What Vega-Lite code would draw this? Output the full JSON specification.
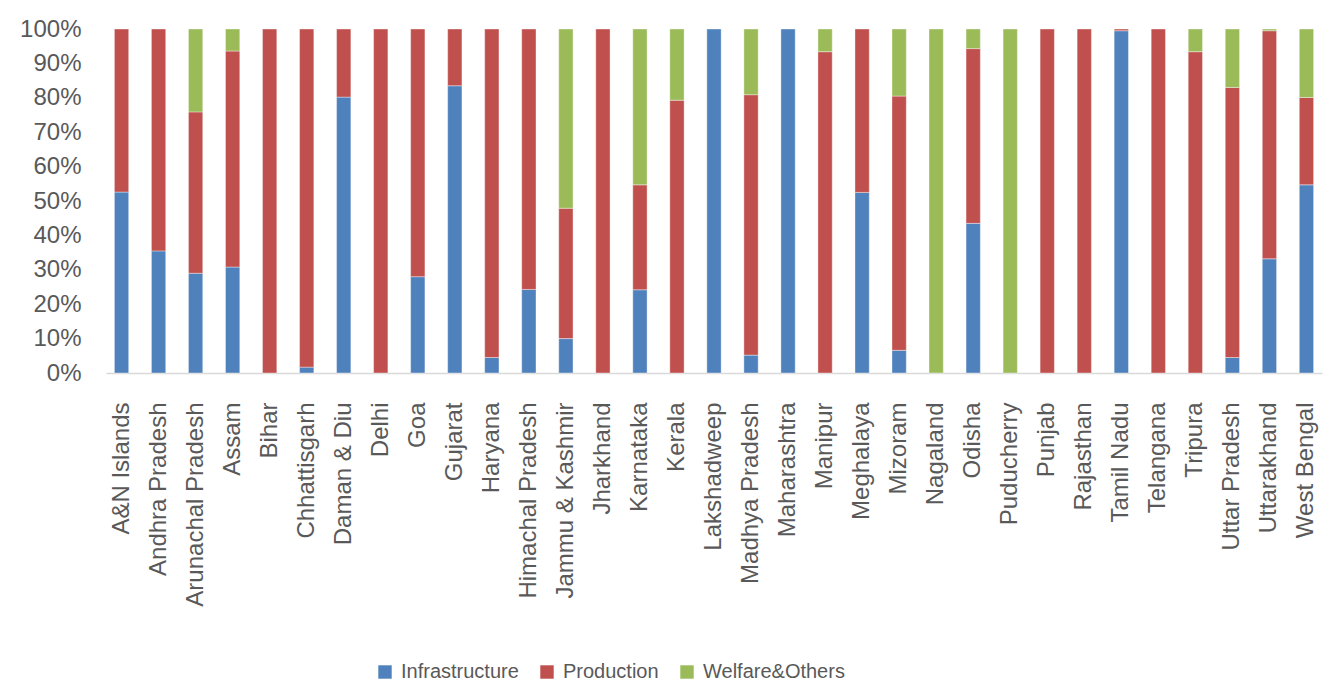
{
  "$schema": "https://vega.github.io/schema/vega-lite/v6.json",
  "autosize": {"type": "none"},
  "padding": {"left": 106, "top": 29, "right": 8, "bottom": 325},
  "width": 1216,
  "height": 344,
  "background": "#FFFFFF",
  "config": {
    "view": {"stroke": null},
    "font": "Liberation Sans",
    "axis": {"labelColor": "#595959", "labelFont": "Liberation Sans", "grid": false, "ticks": false, "title": null}
  },
  "data": {
    "values": [
      {"state": "A&N Islands", "type": "Infrastructure", "value": 52.6},
      {"state": "A&N Islands", "type": "Production", "value": 47.4},
      {"state": "Andhra Pradesh", "type": "Infrastructure", "value": 35.5},
      {"state": "Andhra Pradesh", "type": "Production", "value": 64.5},
      {"state": "Arunachal Pradesh", "type": "Infrastructure", "value": 29.0},
      {"state": "Arunachal Pradesh", "type": "Production", "value": 46.9},
      {"state": "Arunachal Pradesh", "type": "Welfare&Others", "value": 24.1},
      {"state": "Assam", "type": "Infrastructure", "value": 30.8},
      {"state": "Assam", "type": "Production", "value": 62.8},
      {"state": "Assam", "type": "Welfare&Others", "value": 6.4},
      {"state": "Bihar", "type": "Production", "value": 100},
      {"state": "Chhattisgarh", "type": "Infrastructure", "value": 1.7},
      {"state": "Chhattisgarh", "type": "Production", "value": 98.3},
      {"state": "Daman & Diu", "type": "Infrastructure", "value": 80.2},
      {"state": "Daman & Diu", "type": "Production", "value": 19.8},
      {"state": "Delhi", "type": "Production", "value": 100},
      {"state": "Goa", "type": "Infrastructure", "value": 28.0},
      {"state": "Goa", "type": "Production", "value": 72.0},
      {"state": "Gujarat", "type": "Infrastructure", "value": 83.5},
      {"state": "Gujarat", "type": "Production", "value": 16.5},
      {"state": "Haryana", "type": "Infrastructure", "value": 4.5},
      {"state": "Haryana", "type": "Production", "value": 95.5},
      {"state": "Himachal Pradesh", "type": "Infrastructure", "value": 24.3},
      {"state": "Himachal Pradesh", "type": "Production", "value": 75.7},
      {"state": "Jammu & Kashmir", "type": "Infrastructure", "value": 10.0},
      {"state": "Jammu & Kashmir", "type": "Production", "value": 37.9},
      {"state": "Jammu & Kashmir", "type": "Welfare&Others", "value": 52.1},
      {"state": "Jharkhand", "type": "Production", "value": 100},
      {"state": "Karnataka", "type": "Infrastructure", "value": 24.2},
      {"state": "Karnataka", "type": "Production", "value": 30.5},
      {"state": "Karnataka", "type": "Welfare&Others", "value": 45.3},
      {"state": "Kerala", "type": "Production", "value": 79.3},
      {"state": "Kerala", "type": "Welfare&Others", "value": 20.7},
      {"state": "Lakshadweep", "type": "Infrastructure", "value": 100},
      {"state": "Madhya Pradesh", "type": "Infrastructure", "value": 5.2},
      {"state": "Madhya Pradesh", "type": "Production", "value": 75.7},
      {"state": "Madhya Pradesh", "type": "Welfare&Others", "value": 19.1},
      {"state": "Maharashtra", "type": "Infrastructure", "value": 100},
      {"state": "Manipur", "type": "Production", "value": 93.4},
      {"state": "Manipur", "type": "Welfare&Others", "value": 6.6},
      {"state": "Meghalaya", "type": "Infrastructure", "value": 52.5},
      {"state": "Meghalaya", "type": "Production", "value": 47.5},
      {"state": "Mizoram", "type": "Infrastructure", "value": 6.6},
      {"state": "Mizoram", "type": "Production", "value": 73.9},
      {"state": "Mizoram", "type": "Welfare&Others", "value": 19.5},
      {"state": "Nagaland", "type": "Welfare&Others", "value": 100},
      {"state": "Odisha", "type": "Infrastructure", "value": 43.5},
      {"state": "Odisha", "type": "Production", "value": 50.8},
      {"state": "Odisha", "type": "Welfare&Others", "value": 5.7},
      {"state": "Puducherry", "type": "Welfare&Others", "value": 100},
      {"state": "Punjab", "type": "Production", "value": 100},
      {"state": "Rajasthan", "type": "Production", "value": 100},
      {"state": "Tamil Nadu", "type": "Infrastructure", "value": 99.5},
      {"state": "Tamil Nadu", "type": "Production", "value": 0.5},
      {"state": "Telangana", "type": "Production", "value": 100},
      {"state": "Tripura", "type": "Production", "value": 93.4},
      {"state": "Tripura", "type": "Welfare&Others", "value": 6.6},
      {"state": "Uttar Pradesh", "type": "Infrastructure", "value": 4.5},
      {"state": "Uttar Pradesh", "type": "Production", "value": 78.5},
      {"state": "Uttar Pradesh", "type": "Welfare&Others", "value": 17.0},
      {"state": "Uttarakhand", "type": "Infrastructure", "value": 33.2},
      {"state": "Uttarakhand", "type": "Production", "value": 66.3},
      {"state": "Uttarakhand", "type": "Welfare&Others", "value": 0.5},
      {"state": "West Bengal", "type": "Infrastructure", "value": 54.7},
      {"state": "West Bengal", "type": "Production", "value": 25.4},
      {"state": "West Bengal", "type": "Welfare&Others", "value": 19.9}
    ]
  },
  "mark": {"type": "bar", "stroke": "#FFFFFF", "strokeOpacity": 0.5, "strokeWidth": 0.75},
  "encoding": {
    "x": {
      "field": "state",
      "type": "nominal",
      "sort": null,
      "scale": {"paddingInner": 0.614, "paddingOuter": 0.227},
      "axis": {
        "labelAngle": -90,
        "labelAlign": "right",
        "labelBaseline": "middle",
        "labelFontSize": 24,
        "labelPadding": 29,
        "domainColor": "#D9D9D9",
        "domainWidth": 1.5,
        "labelLimit": 400
      }
    },
    "y": {
      "field": "value",
      "type": "quantitative",
      "stack": "normalize",
      "scale": {"domain": [0, 1], "nice": false},
      "axis": {
        "values": [0, 0.1, 0.2, 0.3, 0.4, 0.5, 0.6, 0.7, 0.8, 0.9, 1],
        "format": ".0%",
        "labelFontSize": 24,
        "labelPadding": 25,
        "domain": false
      }
    },
    "color": {
      "field": "type",
      "type": "nominal",
      "scale": {
        "domain": ["Infrastructure", "Production", "Welfare&Others"],
        "range": ["#4F81BD", "#C0504D", "#9BBB59"]
      },
      "legend": {
        "title": null,
        "orient": "none",
        "direction": "horizontal",
        "legendX": 269,
        "legendY": 633,
        "symbolType": "square",
        "symbolSize": 180,
        "symbolStrokeWidth": 0,
        "labelFontSize": 20,
        "labelColor": "#595959",
        "labelFont": "Liberation Sans",
        "labelOffset": 6,
        "columnPadding": 18,
        "labelLimit": 300
      }
    },
    "order": {"field": "type", "sort": "ascending"}
  }
}
